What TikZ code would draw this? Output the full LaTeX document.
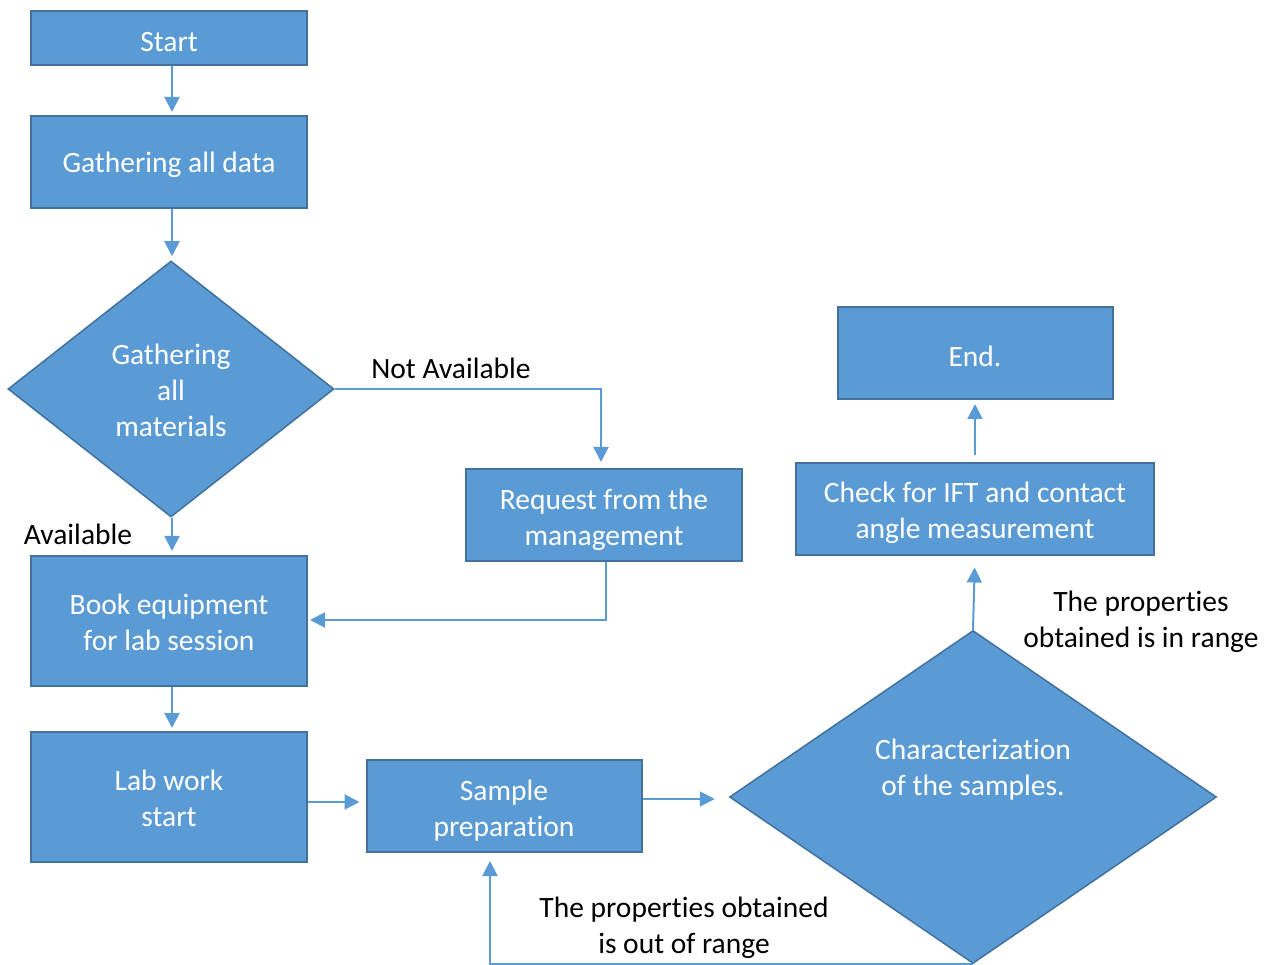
\documentclass[tikz,border=0pt]{standalone}
\usepackage{fontspec}
\setmainfont[RawFeature={-liga;-clig;-calt;-dlig}]{Carlito}
\usetikzlibrary{shapes.geometric,arrows.meta}
\definecolor{fillb}{HTML}{5B9BD5}
\definecolor{edgeb}{HTML}{41719C}
\begin{document}
\begin{tikzpicture}[x=1pt,y=-1pt,
  box/.style={draw=edgeb, line width=2pt, fill=fillb, text=white, align=center, inner sep=0pt, font=\fontsize{29.5}{36}\selectfont, execute at begin node={\rule{0pt}{#1}}},
  box/.default=27pt,
  dec/.style={diamond, draw=edgeb, line width=1.5pt, fill=fillb, inner sep=0pt},
  wtxt/.style={text=white, align=center, font=\fontsize{29.5}{36}\selectfont},
  arr/.style={draw=fillb, line width=2pt, -{Triangle[length=15pt,width=15pt]}},
  lbl/.style={align=center, font=\fontsize{29.5}{36}\selectfont}]
\useasboundingbox (0,0) rectangle (1270,965);
\node[box, minimum width=276pt, minimum height=54pt] (start) at (169,38) {Start};
\node[box, minimum width=276pt, minimum height=92pt] (data) at (169,162) {Gathering all data};
\node[dec, minimum width=326pt, minimum height=256pt] (d1) at (171,389) {};
\node[wtxt] (d1t) at (171,390) {Gathering\\all\\materials};
\node[box=65.5pt, minimum width=276pt, minimum height=92pt] (req) at (604,515) {Request from the\\management};
\node[box=58.5pt, minimum width=276pt, minimum height=130pt] (book) at (169,621) {Book equipment\\for lab session};
\node[box=58.5pt, minimum width=276pt, minimum height=130pt] (lab) at (169,797) {Lab work\\start};
\node[box=66.5pt, minimum width=275pt, minimum height=92pt] (sp) at (504,806) {Sample\\preparation};
\node[dec, minimum width=487pt, minimum height=333pt] (d2) at (973,797) {};
\node[wtxt] (d2t) at (973,770) {Characterization\\of the samples.};
\node[box=64.5pt, minimum width=358pt, minimum height=91pt] (chk) at (975,509) {Check for IFT and contact\\angle measurement};
\node[box, minimum width=275pt, minimum height=92pt] (end) at (975,353) {End.};

\draw[arr, shorten >=3pt] ([xshift=3pt]start.south) -- ([xshift=3pt]data.north);
\draw[arr, shorten >=4pt] ([xshift=3pt]data.south) -- ([xshift=1pt]d1.north);
\draw[arr, shorten >=6pt] (d1.east) -| ([xshift=-3pt]req.north);
\draw[arr, shorten >=4pt] ([xshift=1pt]d1.south) -- ([xshift=3pt]book.north);
\draw[arr, shorten >=2pt] ([xshift=2pt]req.south) |- ([yshift=1pt]book.east);
\draw[arr, shorten >=3pt] ([xshift=3pt]book.south) -- ([xshift=3pt]lab.north);
\draw[arr, shorten >=6pt] ([yshift=-5pt]lab.east) -- ([yshift=-5pt]lab.east -| sp.west);
\draw[arr, shorten >=14pt] ([yshift=7pt]sp.east) -- ([yshift=7pt]sp.east -| d2.west);
\draw[arr, shorten >=12pt] (d2.north) -- (chk.south);
\draw[arr, shorten >=4pt] ([yshift=7pt]chk.north) -- (end.south);
\draw[arr, shorten >=8pt] (d2.south) -| ([xshift=-14pt]sp.south);

\node[lbl] (na) at (451,368) {Not Available};
\node[lbl] (av) at (78,534) {Available};
\node[lbl] (inr) at (1141,622) {The properties\\obtained is in range};
\node[lbl] (outr) at (684,928) {The properties obtained\\is out of range};
\end{tikzpicture}
\end{document}
